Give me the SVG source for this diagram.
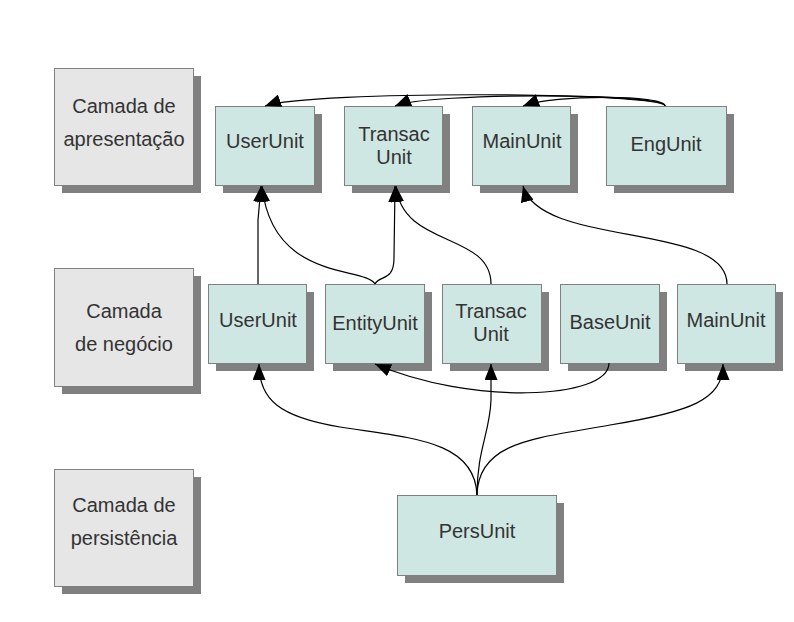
<svg xmlns="http://www.w3.org/2000/svg" width="794" height="622" viewBox="0 0 794 622">
<defs>
<style>
.shadow{fill:#808080;stroke:none}
.layer{fill:#e6e6e6;stroke:#808080;stroke-width:1}
.unit{fill:#cfe7e3;stroke:#808080;stroke-width:1}
text{font-family:"Liberation Sans",Arial,sans-serif;font-size:20px;fill:#333333;text-anchor:middle}
.conn{fill:none;stroke:#000000;stroke-width:1.2}
</style>
<marker id="arrow" markerUnits="userSpaceOnUse" markerWidth="17" markerHeight="13" refX="16" refY="6.5" orient="auto">
<path d="M0,0 L16,6.5 L0,13 z" fill="#000000"/>
</marker>
</defs>
<rect width="794" height="622" fill="#ffffff"/>

<g id="layer-apresentacao">
<rect class="shadow" x="62" y="76" width="139" height="117"/>
<rect class="layer" x="54.5" y="68.5" width="139" height="117"/>
<text x="124" y="113">Camada de</text>
<text x="124" y="146">apresentação</text>
</g>
<g id="layer-negocio">
<rect class="shadow" x="62" y="276" width="139" height="118"/>
<rect class="layer" x="54.5" y="268.5" width="139" height="118"/>
<text x="124" y="318">Camada</text>
<text x="124" y="351">de negócio</text>
</g>
<g id="layer-persistencia">
<rect class="shadow" x="62" y="477" width="139" height="117"/>
<rect class="layer" x="54.5" y="469.5" width="139" height="117"/>
<text x="124" y="512">Camada de</text>
<text x="124" y="545">persistência</text>
</g>

<g id="p-userunit">
<rect class="shadow" x="223" y="114" width="99" height="79"/>
<rect class="unit" x="215.5" y="106.5" width="99" height="79"/>
<text x="265" y="148">UserUnit</text>
</g>
<g id="p-transacunit">
<rect class="shadow" x="352" y="114" width="98" height="79"/>
<rect class="unit" x="344.5" y="106.5" width="98" height="79"/>
<text x="394" y="141">Transac</text>
<text x="394" y="164">Unit</text>
</g>
<g id="p-mainunit">
<rect class="shadow" x="480" y="114" width="98" height="79"/>
<rect class="unit" x="472.5" y="106.5" width="98" height="79"/>
<text x="522" y="148">MainUnit</text>
</g>
<g id="p-engunit">
<rect class="shadow" x="614" y="114" width="120" height="79"/>
<rect class="unit" x="606.5" y="106.5" width="120" height="79"/>
<text x="666" y="151">EngUnit</text>
</g>

<g id="n-userunit">
<rect class="shadow" x="216" y="292" width="98" height="79"/>
<rect class="unit" x="208.5" y="284.5" width="98" height="79"/>
<text x="258" y="327">UserUnit</text>
</g>
<g id="n-entityunit">
<rect class="shadow" x="333" y="292" width="99" height="79"/>
<rect class="unit" x="325.5" y="284.5" width="99" height="79"/>
<text x="375" y="330">EntityUnit</text>
</g>
<g id="n-transacunit">
<rect class="shadow" x="450" y="292" width="99" height="79"/>
<rect class="unit" x="442.5" y="284.5" width="99" height="79"/>
<text x="491" y="318">Transac</text>
<text x="491" y="341">Unit</text>
</g>
<g id="n-baseunit">
<rect class="shadow" x="568" y="292" width="99" height="79"/>
<rect class="unit" x="560.5" y="284.5" width="99" height="79"/>
<text x="610" y="329">BaseUnit</text>
</g>
<g id="n-mainunit">
<rect class="shadow" x="685" y="292" width="98" height="79"/>
<rect class="unit" x="677.5" y="284.5" width="98" height="79"/>
<text x="726" y="327">MainUnit</text>
</g>

<g id="persunit">
<rect class="shadow" x="405" y="503" width="159" height="80"/>
<rect class="unit" x="397.5" y="495.5" width="159" height="80"/>
<text x="477" y="538">PersUnit</text>
</g>

<g id="connectors">
<path class="conn" marker-end="url(#arrow)" d="M665,106 C665,92 310,90 265,106"/>
<path class="conn" marker-end="url(#arrow)" d="M665,106 C665,93 430,92 395,106"/>
<path class="conn" marker-end="url(#arrow)" d="M665,106 C665,95 555,94 523,106"/>
<path class="conn" marker-end="url(#arrow)" d="M258,284 L258,220 L261,186"/>
<path class="conn" marker-end="url(#arrow)" d="M375,284 C365,266 272,282 262,186"/>
<path class="conn" marker-end="url(#arrow)" d="M375,284 C379,275 394,282 394,258 L395,186"/>
<path class="conn" marker-end="url(#arrow)" d="M491,284 C491,232 402,248 396,186"/>
<path class="conn" marker-end="url(#arrow)" d="M727,284 C727,222 540,248 523,186"/>
<path class="conn" marker-end="url(#arrow)" d="M477,495 C475,440 410,438 340,427 C280,417 259,400 259,364"/>
<path class="conn" marker-end="url(#arrow)" d="M477,495 C477,450 490,432 491,400 L491,364"/>
<path class="conn" marker-end="url(#arrow)" d="M477,495 C478,440 540,438 610,425 C690,412 723,400 723,364"/>
<path class="conn" marker-end="url(#arrow)" d="M609,363 C609,400 470,405 375,364"/>
</g>
</svg>
